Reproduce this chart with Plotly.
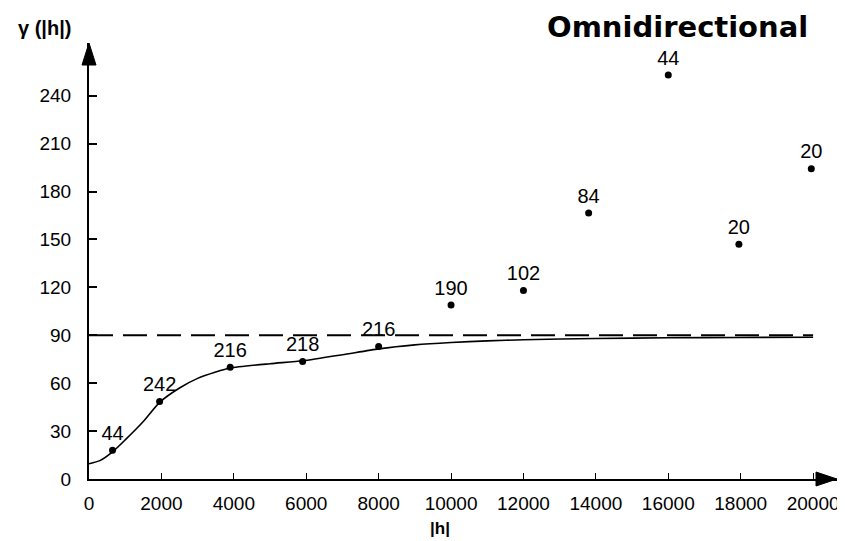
import plotly.graph_objects as go

# Experimental semivariogram points
lag_h = [650, 1950, 3900, 5900, 8000, 10000, 12000, 13800, 16000, 17950, 19950]
gamma = [18, 48.6, 70, 73.6, 83, 109, 118, 166.6, 253, 147, 194.3]
pairs = [44, 242, 216, 218, 216, 190, 102, 84, 44, 20, 20]

# Fitted model curve
model_h = [0, 300, 650, 1000, 1500, 1950, 2500, 3000, 3500, 3900, 5000, 5900,
           7000, 8000, 9000, 10000, 11000, 12000, 14000, 16000, 18000, 20000]
model_g = [9.5, 11.5, 17, 24.5, 36, 48, 57, 63, 67, 69.5, 72.2, 74,
           77.8, 81.5, 84, 85.5, 86.5, 87.2, 88, 88.4, 88.6, 88.8]

# Sill
sill_h = [0, 20000]
sill_g = [90, 90]

x_ticks = [0, 2000, 4000, 6000, 8000, 10000, 12000, 14000, 16000, 18000, 20000]
y_ticks = [0, 30, 60, 90, 120, 150, 180, 210, 240]

XMAX = 20660
YMAX = 273

font = "Liberation Sans, Arial, sans-serif"

# page body has an 8px margin, so the figure is drawn 8px lower/right
OFF = 8
W, H = 845 - OFF, 541 - OFF
L, T, B = 88.5 - OFF, 43 - OFF, 541 - 479.3
PW, PH = W - L - 8, H - T - B


def px(xp):
    return (xp - 88.5) / PW


def py(yp):
    return (479.3 - yp) / PH


fig = go.Figure()
fig.add_trace(go.Scatter(x=sill_h, y=sill_g, mode="lines",
                         line=dict(color="black", width=2, dash="24px,10px"),
                         hoverinfo="skip", showlegend=False))
fig.add_trace(go.Scatter(x=model_h, y=model_g, mode="lines",
                         line=dict(color="black", width=1.6, shape="spline", smoothing=0.6),
                         hoverinfo="skip", showlegend=False))
fig.add_trace(go.Scatter(x=lag_h, y=gamma, mode="markers+text",
                         marker=dict(color="black", size=7),
                         text=[str(p) for p in pairs], textposition="top center",
                         textfont=dict(family=font, size=20, color="black"),
                         showlegend=False))

fig.update_xaxes(range=[0, XMAX], showline=True, linecolor="black", linewidth=2,
                 ticks="inside", ticklen=6, tickwidth=1, tickcolor="black",
                 tickvals=x_ticks, ticktext=[str(v) for v in x_ticks],
                 tickfont=dict(family=font, size=19, color="black"),
                 showgrid=False, zeroline=False, ticklabelstandoff=6, automargin=False)
fig.update_yaxes(range=[0, YMAX], showline=True, linecolor="black", linewidth=2,
                 ticks="inside", ticklen=8, tickwidth=2, tickcolor="black",
                 tickvals=y_ticks, ticktext=[str(v) for v in y_ticks],
                 tickfont=dict(family=font, size=19, color="black"),
                 showgrid=False, zeroline=False, ticklabelstandoff=12, automargin=False)

# Axis arrowheads (paper-referenced so they are not clipped)
fig.add_shape(type="path", xref="paper", yref="paper", xsizemode="pixel", ysizemode="pixel",
              xanchor=0, yanchor=1, path="M -7 -22 L 7 -22 L 0 0 Z",
              fillcolor="black", line=dict(color="black", width=1))
fig.add_shape(type="path", xref="paper", yref="paper", xsizemode="pixel", ysizemode="pixel",
              xanchor=1, yanchor=0, path="M -21 -7 L -21 7 L 0 0 Z",
              fillcolor="black", line=dict(color="black", width=1))

fig.add_annotation(text="<b>Omnidirectional</b>", xref="paper", yref="paper",
                   x=px(677), y=py(27), xanchor="center", yanchor="middle", showarrow=False,
                   borderpad=0,
                   font=dict(family="DejaVu Sans, sans-serif", size=29, color="black"))
fig.add_annotation(text="<b>γ (|h|)</b>", xref="paper", yref="paper",
                   x=px(44), y=py(28), xanchor="center", yanchor="middle", showarrow=False,
                   font=dict(family=font, size=20, color="black"))
fig.add_annotation(text="<b>|h|</b>", xref="paper", yref="paper",
                   x=px(440), y=py(529), xanchor="center", yanchor="middle", showarrow=False,
                   font=dict(family=font, size=17, color="black"))

fig.update_layout(width=W, height=H, margin=dict(l=L, r=8, t=T, b=B),
                  plot_bgcolor="white", paper_bgcolor="white", showlegend=False)

fig.write_html("out.html")
